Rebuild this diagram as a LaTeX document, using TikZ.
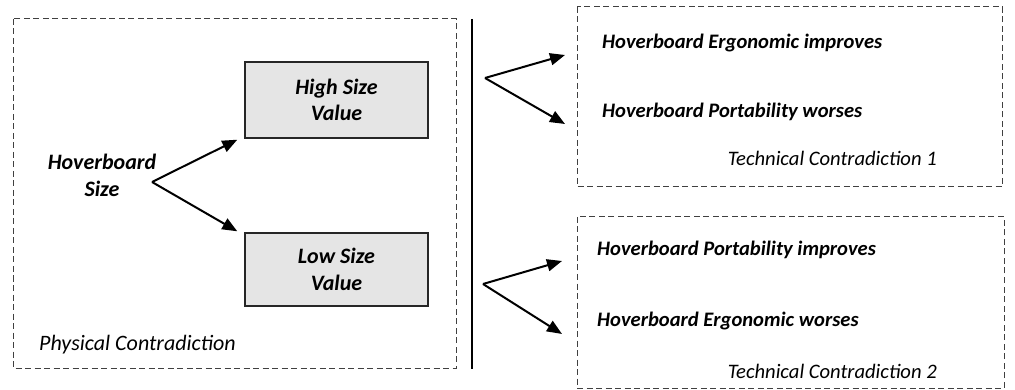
\documentclass[tikz,border=0pt]{standalone}
\usepackage{fontspec}
\setmainfont{Carlito}
\usetikzlibrary{arrows.meta}
\begin{document}
\begin{tikzpicture}[x=1pt,y=-1pt,
  frame/.style={draw=black!75,line width=1pt,dash pattern=on 6pt off 3.5pt},
  valuebox/.style={draw=black!85,line width=1.4pt,fill=black!10,minimum width=183pt,minimum height=76pt,align=center,font=\fontsize{22}{26.5}\selectfont\bfseries\itshape,inner sep=0pt},
  leftlabel/.style={font=\fontsize{22}{27}\selectfont\bfseries\itshape,inner sep=0pt},
  boldlabel/.style={font=\fontsize{20.6}{24}\selectfont\bfseries\itshape,inner sep=0pt},
  caption/.style={font=\fontsize{20.6}{24}\selectfont\itshape,inner sep=0pt},
  fork/.style={line width=2pt,-{Triangle[length=15pt,width=12pt]}}]
\useasboundingbox (0,0) rectangle (1015,390);

% physical contradiction
\draw[frame] (13,19) rectangle (456,368);
\node[valuebox] (high) at (336.5,100) {High Size\\Value};
\node[valuebox,minimum height=73pt] (low) at (336.5,269.5) {Low Size\\Value};
\node[leftlabel,align=center] (size) at (102,175) {Hoverboard\\Size};
\node[leftlabel,font=\fontsize{22}{27}\selectfont\itshape,anchor=base west] (pc) at (39,350) {Physical Contradiction};
\coordinate (split) at (152,182);
\draw[fork] (split) -- ([shift={(-7,1)}]high.south west);
\draw[fork] (split) -- ([shift={(-7,-1)}]low.north west);

% separator
\draw[line width=1.8pt] (472,19) -- (472,369);

% technical contradiction 1
\draw[frame] (577,7) rectangle (1002,187);
\node[boldlabel,anchor=base west] (e1) at (602,49) {Hoverboard Ergonomic improves};
\node[boldlabel,anchor=base west] (p1) at (602,118) {Hoverboard Portability worses};
\node[caption,anchor=base east] (tc1) at (937,166) {Technical Contradiction 1};
\coordinate (f1) at (485,78);
\draw[fork] (f1) -- ([xshift=-37pt,yshift=-6pt]e1.base west);
\draw[fork] (f1) -- ([xshift=-37pt,yshift=-6pt]p1.base west);

% technical contradiction 2
\draw[frame] (577,217) rectangle (1004,388);
\node[boldlabel,anchor=base west] (p2) at (597,256) {Hoverboard Portability improves};
\node[boldlabel,anchor=base west] (e2) at (597,326) {Hoverboard Ergonomic worses};
\node[caption,anchor=base east] (tc2) at (937,378) {Technical Contradiction 2};
\coordinate (f2) at (483,284);
\draw[fork] (f2) -- ([xshift=-35pt,yshift=-5pt]p2.base west);
\draw[fork] (f2) -- ([xshift=-35pt,yshift=-8pt]e2.base west);
\end{tikzpicture}
\end{document}
